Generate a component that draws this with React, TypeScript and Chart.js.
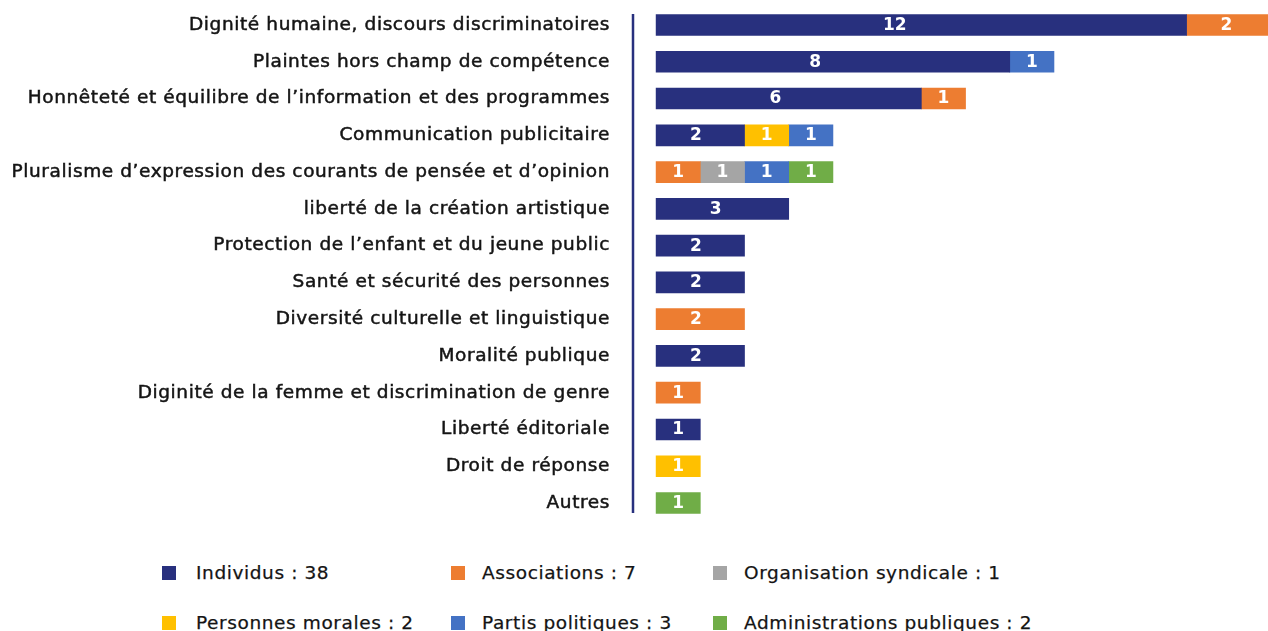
import React, { useEffect, useRef } from "react";
import { Chart, registerables } from "chart.js";

Chart.register(...registerables);

const categories = [
  "Dignité humaine, discours discriminatoires",
  "Plaintes hors champ de compétence",
  "Honnêteté et équilibre de l’information et des programmes",
  "Communication publicitaire",
  "Pluralisme d’expression des courants de pensée et d’opinion",
  "liberté de la création artistique",
  "Protection de l’enfant et du jeune public",
  "Santé et sécurité des personnes",
  "Diversité culturelle et linguistique",
  "Moralité publique",
  "Diginité de la femme et discrimination de genre",
  "Liberté éditoriale",
  "Droit de réponse",
  "Autres",
];

const individus = [12, 8, 6, 2, null, 3, 2, 2, null, 2, null, 1, null, null];
const associations = [2, null, 1, null, 1, null, null, null, 2, null, 1, null, null, null];
const organisationSyndicale = [null, null, null, null, 1, null, null, null, null, null, null, null, null, null];
const personnesMorales = [null, null, null, 1, null, null, null, null, null, null, null, null, 1, null];
const partisPolitiques = [null, 1, null, 1, 1, null, null, null, null, null, null, null, null, null];
const administrationsPubliques = [null, null, null, null, 1, null, null, null, null, null, null, null, null, 1];

const seriesNames = [
  "Individus : 38",
  "Associations : 7",
  "Organisation syndicale : 1",
  "Personnes morales : 2",
  "Partis politiques : 3",
  "Administrations publiques : 2",
];

const NAVY = "#28307E";
const COLORS = ["#28307E", "#ED7D31", "#A5A5A5", "#FFC000", "#4472C4", "#70AD47"];
const FONT = "'DejaVu Sans', 'Noto Sans', sans-serif";
const TEXT = "#141414";
const SPACING = "0.6px";

const spacingPlugin = {
  id: "letterSpacing",
  beforeDraw(chart: any) {
    (chart.ctx as any).letterSpacing = SPACING;
  },
};

const axisLinePlugin = {
  id: "axisLine",
  afterDatasetsDraw(chart: any) {
    const { ctx, chartArea, scales } = chart;
    const y = scales.y;
    const top = y.getPixelForValue(0) - 11;
    const bottom = y.getPixelForValue(categories.length - 1) + 10;
    ctx.save();
    ctx.strokeStyle = NAVY;
    ctx.lineWidth = 2.5;
    ctx.beginPath();
    ctx.moveTo(chartArea.left - 1, top);
    ctx.lineTo(chartArea.left - 1, bottom);
    ctx.stroke();
    ctx.restore();
  },
};

const valueLabelPlugin = {
  id: "valueLabels",
  afterDatasetsDraw(chart: any) {
    const { ctx } = chart;
    ctx.save();
    (ctx as any).letterSpacing = "0px";
    ctx.fillStyle = "#ffffff";
    ctx.font = `700 17px ${FONT}`;
    ctx.textAlign = "center";
    ctx.textBaseline = "middle";
    chart.data.datasets.forEach((ds: any, di: number) => {
      const meta = chart.getDatasetMeta(di);
      meta.data.forEach((el: any, i: number) => {
        const v = ds.data[i];
        if (v === null || v === undefined || v === 0) return;
        const w = el.x - el.base;
        const frac = v >= 2 ? 0.45 : 0.5;
        ctx.fillText(String(v), el.base + w * frac, el.y + 0.5);
      });
    });
    ctx.restore();
  },
};

const legendCols = [
  { sq: 162, tx: 196 },
  { sq: 451, tx: 482 },
  { sq: 713, tx: 744 },
];
const legendRows = [573, 623];

export default function App() {
  const canvasRef = useRef<HTMLCanvasElement | null>(null);

  useEffect(() => {
    if (!canvasRef.current) return;
    const data = [
      individus,
      associations,
      organisationSyndicale,
      personnesMorales,
      partisPolitiques,
      administrationsPubliques,
    ];
    const chart = new Chart(canvasRef.current, {
      type: "bar",
      data: {
        labels: categories,
        datasets: data.map((d, i) => ({
          label: seriesNames[i],
          data: d as any,
          backgroundColor: COLORS[i],
          borderWidth: 0,
          barThickness: 21,
        })),
      },
      options: {
        indexAxis: "y",
        animation: false,
        responsive: true,
        maintainAspectRatio: false,
        layout: { padding: { top: 6.6, bottom: 9.6, left: 0, right: 0 } },
        plugins: {
          legend: { display: false },
          tooltip: { enabled: false },
        },
        scales: {
          x: {
            stacked: true,
            display: false,
            min: -0.5,
            max: 14,
          },
          y: {
            stacked: true,
            grid: { display: false, drawTicks: false },
            border: { display: false },
            afterFit: (scale: any) => {
              scale.width = 634;
              scale.paddingTop = 0;
              scale.paddingBottom = 0;
            },
            ticks: {
              padding: 24,
              color: TEXT,
              textStrokeColor: TEXT,
              textStrokeWidth: 0.5,
              font: { family: FONT, size: 18.5 },
              autoSkip: false,
            } as any,
          },
        },
      },
      plugins: [spacingPlugin, axisLinePlugin, valueLabelPlugin],
    });
    return () => chart.destroy();
  }, []);

  return (
    <div
      style={{
        position: "absolute",
        left: 0,
        top: 0,
        width: 1268,
        height: 631,
        overflow: "hidden",
        background: "#ffffff",
        fontFamily: FONT,
      }}
    >
      <div style={{ position: "absolute", left: 0, top: 0, width: 1275, height: 531 }}>
        <canvas ref={canvasRef} />
      </div>
      {seriesNames.map((name, i) => {
        const col = legendCols[i % 3];
        const cy = legendRows[Math.floor(i / 3)];
        return (
          <React.Fragment key={name}>
            <div
              style={{
                position: "absolute",
                left: col.sq,
                top: cy - 7,
                width: 14,
                height: 14,
                background: COLORS[i],
              }}
            />
            <div
              style={{
                position: "absolute",
                left: col.tx,
                top: cy - 12,
                height: 24,
                lineHeight: "24px",
                fontSize: 18.5,
                letterSpacing: SPACING,
                color: TEXT,
                whiteSpace: "nowrap",
                WebkitTextStroke: `0.25px ${TEXT}`,
              }}
            >
              {name}
            </div>
          </React.Fragment>
        );
      })}
    </div>
  );
}
